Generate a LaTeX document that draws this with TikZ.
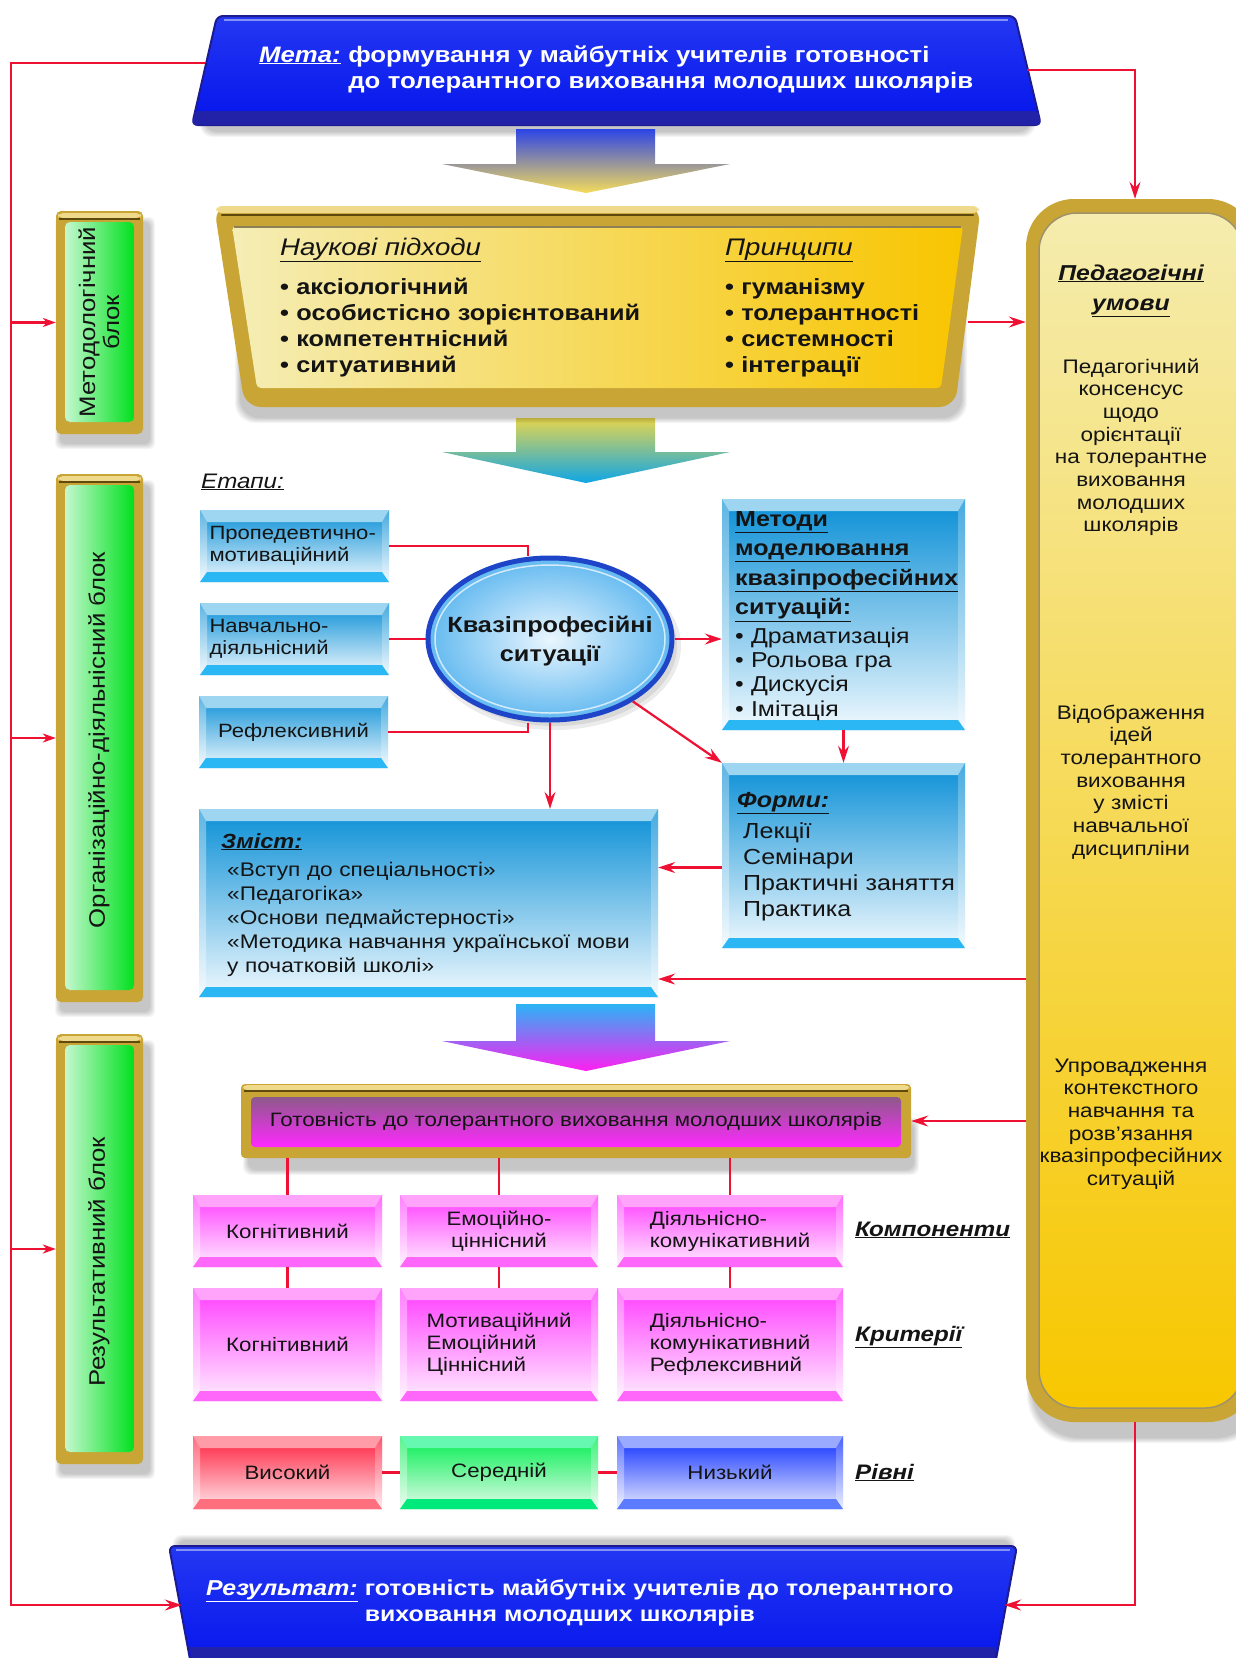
\documentclass[tikz,border=0pt]{standalone}
\usepackage{fontspec}
\setmainfont{Liberation Sans}[FakeStretch=1.15]
\usetikzlibrary{arrows.meta,calc,shapes.geometric}

\definecolor{cred}{HTML}{EE1133}
\definecolor{gold}{HTML}{C9A535}
\definecolor{goldlt}{HTML}{EFD98A}
\definecolor{golddk}{HTML}{5E4A0C}
\definecolor{ink}{HTML}{141414}
\definecolor{bB1}{HTML}{9ED5F0}\definecolor{bB2}{HTML}{0A8FD6}\definecolor{bB3}{HTML}{F0F9FE}\definecolor{bB4}{HTML}{2BB7F4}
\definecolor{mM1}{HTML}{FFA3FB}\definecolor{mM2}{HTML}{FF3DFF}\definecolor{mM3}{HTML}{FFEEFF}\definecolor{mM4}{HTML}{FF66FA}
\definecolor{rR1}{HTML}{FF9CA8}\definecolor{rR2}{HTML}{FF1F3D}\definecolor{rR3}{HTML}{FFE8EC}\definecolor{rR4}{HTML}{FF6F7E}
\definecolor{gG1}{HTML}{66F8B0}\definecolor{gG2}{HTML}{00EE50}\definecolor{gG3}{HTML}{E3FCEA}\definecolor{gG4}{HTML}{00EA7C}
\definecolor{lB1}{HTML}{9AAAFF}\definecolor{lB2}{HTML}{0E2EFF}\definecolor{lB3}{HTML}{E6EAFF}\definecolor{lB4}{HTML}{5C7BFF}
\definecolor{mtop}{HTML}{2438F2}\definecolor{mbot}{HTML}{0414EC}\definecolor{mline}{HTML}{1C1C90}\definecolor{mdark}{HTML}{2222A8}
\definecolor{yL}{HTML}{F5EDB5}\definecolor{yR}{HTML}{F8C500}
\definecolor{gtT}{HTML}{8C5A8A}\definecolor{gtM}{HTML}{FFB0FF}\definecolor{gtB}{HTML}{FF28FF}
\definecolor{gL}{HTML}{C5F8CF}\definecolor{gR}{HTML}{00E01E}
\definecolor{cT}{HTML}{F5ECAE}\definecolor{cM}{HTML}{F6DC5A}\definecolor{cB}{HTML}{F7C700}
\definecolor{kvI}{HTML}{EAF6FE}\definecolor{kvO}{HTML}{62B9F0}\definecolor{kvD}{HTML}{1E45C8}
\definecolor{a1t}{HTML}{2C44E6}\definecolor{a1b}{HTML}{F5DC5A}
\definecolor{a2t}{HTML}{E6D64E}\definecolor{a2b}{HTML}{0EA5E6}
\definecolor{a3t}{HTML}{2AB4F5}\definecolor{a3b}{HTML}{FF1EF2}

\newcommand\fsz[2]{\fontsize{#1}{#2}\selectfont}
\newcommand\softsh[5]{\foreach \k in {0,...,5}{\fill[black,opacity=0.04,rounded corners=#5] (#1-\k,#2-\k) rectangle (#3+\k,#4+\k);}}

\tikzset{
  redline/.style={draw=cred, line width=2.2pt},
  redarrow/.style={redline, -{Stealth[length=17pt,width=11pt,inset=6pt]}},
  redarrowS/.style={redline, -{Stealth[length=13pt,width=9pt,inset=4pt]}},
  bev/.style n args={4}{rectangle, inner sep=0pt, top color=#2, bottom color=#3, text=ink,
    path picture={
      \coordinate (pNW) at (path picture bounding box.north west);
      \coordinate (pNE) at (path picture bounding box.north east);
      \coordinate (pSW) at (path picture bounding box.south west);
      \coordinate (pSE) at (path picture bounding box.south east);
      \fill[white,opacity=.35] (pNW) -- ([shift={(7pt,-12pt)}]pNW) -- ([shift={(7pt,10pt)}]pSW) -- (pSW) -- cycle;
      \fill[white,opacity=.25] (pNE) -- ([shift={(-7pt,-12pt)}]pNE) -- ([shift={(-7pt,10pt)}]pSE) -- (pSE) -- cycle;
      \fill[#1] (pNW) -- (pNE) -- ([shift={(-7pt,-12pt)}]pNE) -- ([shift={(7pt,-12pt)}]pNW) -- cycle;
      \fill[#4] (pSW) -- (pSE) -- ([shift={(-7pt,10pt)}]pSE) -- ([shift={(7pt,10pt)}]pSW) -- cycle;
    }},
  bevB/.style={bev={bB1}{bB2}{bB3}{bB4}},
  bevM/.style={bev={mM1}{mM2}{mM3}{mM4}},
  bevR/.style={bev={rR1}{rR2}{rR3}{rR4}},
  bevG/.style={bev={gG1}{gG2}{gG3}{gG4}},
  bevL/.style={bev={lB1}{lB2}{lB3}{lB4}},
  gblock/.style={rectangle, inner sep=0pt, fill=gold, rounded corners=5,
    path picture={
      \coordinate (pNW) at (path picture bounding box.north west);
      \coordinate (pNE) at (path picture bounding box.north east);
      \coordinate (pSE) at (path picture bounding box.south east);
      \shade[left color=gL, right color=gR] ([shift={(9pt,-11pt)}]pNW) rectangle ([shift={(-9pt,12pt)}]pSE);
      \fill[goldlt] ([shift={(2pt,-2pt)}]pNW) rectangle ([shift={(-2pt,-7pt)}]pNE);
      \draw[golddk, line width=2pt] ([shift={(3pt,-8pt)}]pNW) -- ([shift={(-3pt,-8pt)}]pNE);
    }},
  goldbar/.style={rectangle, inner sep=0pt, fill=gold, rounded corners=4,
    path picture={
      \coordinate (pNW) at (path picture bounding box.north west);
      \coordinate (pNE) at (path picture bounding box.north east);
      \coordinate (pSE) at (path picture bounding box.south east);
      \shade[top color=gtT, middle color=gtM, bottom color=gtB] ([shift={(10pt,-13pt)}]pNW) rectangle ([shift={(-10pt,11pt)}]pSE);
      \fill[goldlt] ([shift={(2pt,-1pt)}]pNW) rectangle ([shift={(-2pt,-6pt)}]pNE);
      \draw[golddk, line width=2.5pt] ([shift={(3pt,-7pt)}]pNW) -- ([shift={(-3pt,-7pt)}]pNE);
    }},
  txt/.style={inner sep=0pt, text=ink},
}

\begin{document}
\begin{tikzpicture}[x=1pt,y=-1pt]
\useasboundingbox (0,0) rectangle (1236,1658);
\fill[white] (0,0) rectangle (1236,1658);

% ---------- Meta ----------
\softsh{205}{100}{1030}{132}{12}
\shadedraw[top color=mtop, bottom color=mbot, draw=mline, line width=2, rounded corners=6]
  (217,16) -- (1015,16) -- (1041,125) -- (192,125) -- cycle;
\fill[mdark, rounded corners=3] (195,111) -- (1038,111) -- (1041,125) -- (192,125) -- cycle;
\draw[white, opacity=.45, line width=1.5] (224,20) -- (1008,20);
\node[inner sep=0, minimum width=822, minimum height=100] (meta) at (616,70) {};
\node[txt, text=white, anchor=base west, text width=800, align=left, font=\fsz{22.4}{26.4}\bfseries] (metat) at (259,62)
  {\underline{\textit{Мета:}} формування у майбутніх учителів готовності\\\hphantom{\underline{\textit{Мета:}} }до толерантного виховання молодших школярів};

% ---------- big arrows ----------
\shade[top color=a1t, bottom color=a1b] (516,129) -- (655,129) -- (655,164) -- (730,164) -- (586,193) -- (442,164) -- (516,164) -- cycle;
\shade[top color=a2t, bottom color=a2b] (516,418) -- (655,418) -- (655,452) -- (730,452) -- (586,483) -- (442,452) -- (516,452) -- cycle;
\shade[top color=a3t, bottom color=a3b] (516,1004) -- (655,1004) -- (655,1041) -- (730,1041) -- (586,1071) -- (442,1041) -- (516,1041) -- cycle;

% ---------- scientific approaches frame ----------
\softsh{240}{300}{962}{418}{20}
\fill[gold, rounded corners=16] (214,206) -- (981,206) -- (955,407) -- (245,407) -- cycle;
\fill[goldlt, rounded corners=6] (216,206) rectangle (979,213);
\draw[golddk, line width=2.5, line cap=round] (222,215) -- (973,215);
\shade[left color=yL, right color=yR, rounded corners=4] (232,226) -- (963,226) -- (941,388) -- (257,388) -- cycle;
\draw[golddk!70, line width=1.5] (234,227) -- (961,227);
\node[inner sep=0, minimum width=740, minimum height=197] (sci) at (597.5,308) {};
\node[txt, anchor=base west, font=\fsz{24}{26}\itshape] (scih1) at (280,255) {\underline{Наукові підходи}};
\node[txt, anchor=base west, font=\fsz{24}{26}\itshape] (scih2) at (725,255) {\underline{Принципи}};
\node[txt, anchor=base west, text width=440, align=left, font=\fsz{22}{26.3}\bfseries] (scil1) at (280,294)
  {• аксіологічний\\• особистісно зорієнтований\\• компетентнісний\\• ситуативний};
\node[txt, anchor=base west, text width=240, align=left, font=\fsz{22}{26.3}\bfseries] (scil2) at (725,294)
  {• гуманізму\\• толерантності\\• системності\\• інтеграції};

% ---------- pedagogical conditions ----------
\softsh{1032}{222}{1262}{1438}{48}
\fill[gold, rounded corners=48] (1026,199) rectangle (1256,1422);
\shade[top color=cT, middle color=cM, bottom color=cB, rounded corners=38] (1039,213) rectangle (1243,1408);
\draw[golddk!60, line width=1.5, rounded corners=38] (1039,213) rectangle (1243,1408);
\node[inner sep=0, minimum width=218, minimum height=1223] (cond) at (1135,810.5) {};
\node[txt, anchor=base, text width=210, align=center, font=\fsz{21.6}{30}\bfseries\itshape] (condh) at (1131,280)
  {\underline{Педагогічні}\\\underline{умови}};
\node[txt, anchor=base, text width=210, align=center, font=\fsz{19.6}{22.7}] (condp1) at (1131,373)
  {Педагогічний\\консенсус\\щодо\\орієнтації\\на толерантне\\виховання\\молодших\\школярів};
\node[txt, anchor=base, text width=210, align=center, font=\fsz{19.6}{22.7}] (condp2) at (1131,719)
  {Відображення\\ідей\\толерантного\\виховання\\у змісті\\навчальної\\дисципліни};
\node[txt, anchor=base, text width=210, align=center, font=\fsz{19.6}{22.7}] (condp3) at (1131,1072)
  {Упровадження\\контекстного\\навчання та\\розв’язання\\квазіпрофесійних\\ситуацій};

% ---------- left green blocks ----------
\softsh{60}{222}{150}{444}{6}
\softsh{60}{485}{150}{1012}{6}
\softsh{60}{1045}{150}{1474}{6}
\node[gblock, minimum width=87, minimum height=223] (b1) at (99.5,322.5) {};
\node[gblock, minimum width=87, minimum height=528] (b2) at (99.5,738) {};
\node[gblock, minimum width=87, minimum height=430] (b3) at (99.5,1249) {};
\node[txt, rotate=90, align=center, font=\fsz{22.4}{24}] (b1t) at (99,322) {Методологічний\\блок};
\node[txt, rotate=90, font=\fsz{22.4}{24}] (b2t) at (99,740) {Організаційно-діяльнісний блок};
\node[txt, rotate=90, font=\fsz{22.4}{24}] (b3t) at (99,1262) {Результативний блок};

% ---------- stages ----------
\node[txt, anchor=base west, font=\fsz{21}{26}\itshape] (etapy) at (201,488) {\underline{Етапи:}};
\node[bevB, minimum width=189, minimum height=72, text width=170, align=left, font=\fsz{19.2}{22}] (st1) at (294.5,546) {Пропедевтично-\\мотиваційний};
\node[bevB, minimum width=189, minimum height=72, text width=170, align=left, font=\fsz{19.2}{22}] (st2) at (294.5,639) {Навчально-\\діяльнісний};
\node[bevB, minimum width=189, minimum height=72, align=center, font=\fsz{19.2}{22}] (st3) at (293.5,732) {Рефлексивний};

% ---------- ellipse ----------
\fill[black,opacity=.08] (555,646) ellipse (126 and 84);
\fill[black,opacity=.08] (555,646) ellipse (122 and 80);
\node[ellipse, minimum width=244, minimum height=162, inner sep=0, inner color=kvI, outer color=kvO, draw=kvD, line width=5] (kv) at (550,639) {};
\draw[white, opacity=.7, line width=1.5] (550,639) ellipse (115 and 74);
\node[txt, align=center, font=\fsz{22}{29}\bfseries] (kvt) at (550,641) {Квазіпрофесійні\\ситуації};

% ---------- methods ----------
\node[bevB, minimum width=243, minimum height=231] (meth) at (843.5,614.5) {};
\node[txt, anchor=base west, text width=232, align=left, font=\fsz{21.8}{29.6}\bfseries] (metht) at (735,526)
  {\underline{Методи}\\\underline{моделювання}\\\underline{квазіпрофесійних}\\\underline{ситуацій:}};
\node[txt, anchor=base west, text width=225, align=left, font=\fsz{21.6}{24.4}] (methl) at (735,643)
  {• Драматизація\\• Рольова гра\\• Дискусія\\• Імітація};

% ---------- forms ----------
\node[bevB, minimum width=243, minimum height=185] (forms) at (843.5,855.5) {};
\node[txt, anchor=base west, font=\fsz{21.8}{26}\bfseries\itshape] (formst) at (737,807) {\underline{Форми:}};
\node[txt, anchor=base west, text width=225, align=left, font=\fsz{21.8}{26.3}] (formsl) at (743,838)
  {Лекції\\Семінари\\Практичні заняття\\Практика};

% ---------- content ----------
\node[bevB, minimum width=459, minimum height=188] (zm) at (428.5,903) {};
\node[txt, anchor=base west, font=\fsz{20.5}{24}\bfseries\itshape] (zmt) at (221,848) {\underline{Зміст:}};
\node[txt, anchor=base west, text width=430, align=left, font=\fsz{19.7}{24}] (zml) at (227,876)
  {«Вступ до спеціальності»\\«Педагогіка»\\«Основи педмайстерності»\\«Методика навчання української мови\\у початковій школі»};

% ---------- readiness ----------
\softsh{248}{1122}{914}{1170}{8}
\node[goldbar, minimum width=670, minimum height=74, font=\fsz{19.4}{24}, text=ink] (gt) at (576,1121)
  {Готовність до толерантного виховання молодших школярів};

% ---------- components / criteria / levels ----------
\node[bevM, minimum width=189, minimum height=72, font=\fsz{19.4}{22}] (k1) at (287.5,1231) {Когнітивний};
\node[bevM, minimum width=198, minimum height=72, align=center, font=\fsz{19.4}{22}] (k2) at (499,1231) {Емоційно-\\ціннісний};
\node[bevM, minimum width=226, minimum height=72, align=left, font=\fsz{19.4}{22}] (k3) at (730,1231) {Діяльнісно-\\комунікативний};
\node[bevM, minimum width=189, minimum height=113, font=\fsz{19.4}{22}] (c1) at (287.5,1344.5) {Когнітивний};
\node[bevM, minimum width=198, minimum height=113, align=left, font=\fsz{19.4}{22}] (c2) at (499,1344.5) {Мотиваційний\\Емоційний\\Ціннісний};
\node[bevM, minimum width=226, minimum height=113, align=left, font=\fsz{19.4}{22}] (c3) at (730,1344.5) {Діяльнісно-\\комунікативний\\Рефлексивний};
\node[bevR, minimum width=189, minimum height=73, font=\fsz{19.4}{22}] (l1) at (287.5,1472.5) {Високий};
\node[bevG, minimum width=198, minimum height=73, font=\fsz{19.4}{22}] (l2) at (499,1472.5) {Середній};
\node[bevL, minimum width=226, minimum height=73, font=\fsz{19.4}{22}] (l3) at (730,1472.5) {Низький};
\node[txt, anchor=base west, font=\fsz{21}{26}\bfseries\itshape] (lblk) at (855,1236) {\underline{Компоненти}};
\node[txt, anchor=base west, font=\fsz{21}{26}\bfseries\itshape] (lblc) at (855,1341) {\underline{Критерії}};
\node[txt, anchor=base west, font=\fsz{21}{26}\bfseries\itshape] (lblr) at (855,1479) {\underline{Рівні}};

% ---------- result ----------
\softsh{178}{1540}{1010}{1560}{8}
\shadedraw[top color=mtop, bottom color=mbot, draw=mline, line width=2, rounded corners=6]
  (169,1546) -- (1017,1546) -- (994,1670) -- (192,1670) -- cycle;
\fill[mdark] (190,1647) -- (996,1647) -- (994,1670) -- (192,1670) -- cycle;
\draw[white, opacity=.45, line width=1.5] (176,1550) -- (1010,1550);
\node[inner sep=0, minimum width=822, minimum height=100] (res) at (593,1605) {};
\node[txt, text=white, anchor=base west, text width=820, align=left, font=\fsz{21.6}{26.4}\bfseries] (rest) at (206,1595)
  {\underline{\textit{Результат:}} готовність майбутніх учителів до толерантного\\\hphantom{\underline{\textit{Результат:}} }виховання молодших школярів};

% ---------- connectors ----------
\coordinate (lbT) at (11,63);
\coordinate (lbB) at (11,1605);
\coordinate (c979) at (0,979);
\draw[redarrow] ([yshift=7pt]meta.west) -- (lbT) -- (lbB) -- (res.west);
\draw[redarrowS] (b1.west -| lbT) -- (b1.west);
\draw[redarrowS] (b2.west -| lbT) -- (b2.west);
\draw[redarrowS] (b3.west -| lbT) -- (b3.west);
\draw[redarrow] (meta.east) -| (cond.north);
\draw[redarrow] ([yshift=-14pt]sci.east) -- ([yshift=-14pt]sci.east -| cond.west);
\draw[redarrow] (cond.west |- c979) -- (zm.east |- c979);
\draw[redarrow] (cond.west |- gt.east) -- (gt.east);
\draw[redarrow] (cond.south) |- (res.east);

\draw[redline] (st1.east) -| ($(kv.north)+(-22,0)$);
\draw[redline] (st2.east) -- (kv.west);
\draw[redline] (st3.east) -| ($(kv.south)+(-22,0)$);
\draw[redarrow] (kv.east) -- (kv.east -| meth.west);
\draw[redarrow] (kv.-37) -- (forms.north west);
\draw[redarrow] (kv.south) -- (kv.south |- zm.north);
\draw[redarrow] (meth.south) -- (forms.north);
\draw[redarrow] ([yshift=-12pt]forms.west) -- ([yshift=-12pt]forms.west -| zm.east);

\draw[redline] (gt.south -| k1.north) -- (k1.north);
\draw[redline] (gt.south -| k2.north) -- (k2.north);
\draw[redline] (gt.south -| k3.north) -- (k3.north);
\draw[redline] (k1.south) -- (c1.north);
\draw[redline] (k2.south) -- (c2.north);
\draw[redline] (k3.south) -- (c3.north);
\draw[redline] (l1.east) -- (l2.west);
\draw[redline] (l2.east) -- (l3.west);
\end{tikzpicture}
\end{document}
